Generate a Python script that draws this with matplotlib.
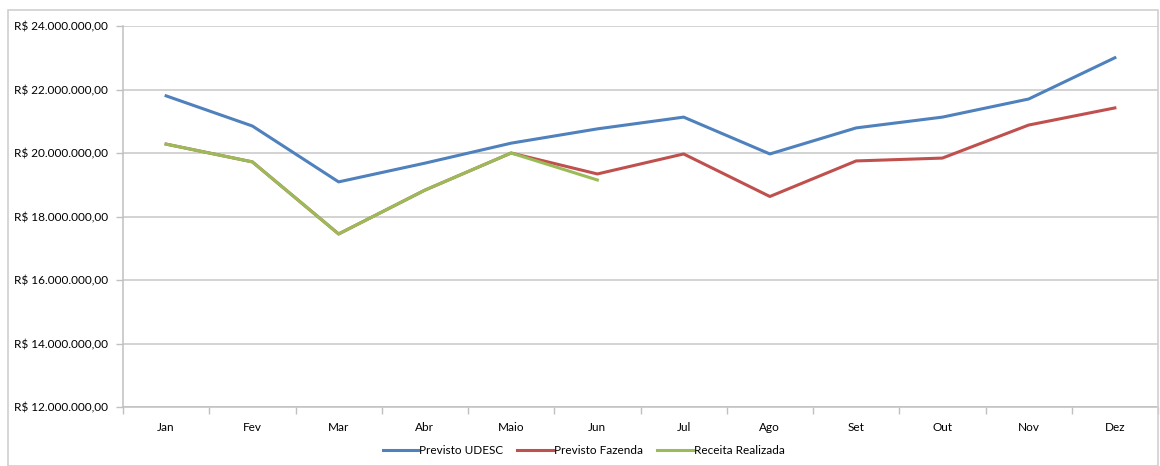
import matplotlib.pyplot as plt
import matplotlib.ticker as mticker
from matplotlib.patches import Rectangle

meses = ["Jan", "Fev", "Mar", "Abr", "Maio", "Jun", "Jul", "Ago", "Set", "Out", "Nov", "Dez"]
previsto_udesc = [21.80, 20.85, 19.09, 19.68, 20.31, 20.76, 21.13, 19.97, 20.79, 21.13, 21.70, 23.00]
previsto_fazenda = [20.28, 19.72, 17.45, 18.83, 20.00, 19.34, 19.97, 18.63, 19.75, 19.84, 20.88, 21.42]
receita_realizada = [20.28, 19.72, 17.45, 18.83, 20.00, 19.15]

plt.rcParams['font.family'] = ['Lato', 'DejaVu Sans']

def brl(v, pos):
    milhoes = int(round(v))
    return "R$ {}.000.000,00".format(milhoes)

fig = plt.figure(figsize=(11.6, 4.66), dpi=100)
fig.patches.append(Rectangle((8 / 1160, 0), 1150 / 1160, 1 - 10 / 466, transform=fig.transFigure,
                             fill=False, edgecolor="#d0d0d0", linewidth=1.2))
ax = fig.add_axes([123 / 1160, 1 - 407 / 466, (1158 - 123) / 1160, (407 - 26) / 466])

x = list(range(len(meses)))
ax.plot(x, previsto_udesc, color="#4F81BD", lw=2.2, label="Previsto UDESC")
ax.plot(x, previsto_fazenda, color="#C0504D", lw=2.2, label="Previsto Fazenda")
ax.plot(range(len(receita_realizada)), receita_realizada, color="#9BBB59", lw=2.2, label="Receita Realizada")

ax.set_xlim(-0.5, 11.5)
ax.set_ylim(12, 24)
ax.set_yticks(range(12, 25, 2))
ax.yaxis.set_major_formatter(mticker.FuncFormatter(brl))
ax.set_xticks(x)
ax.set_xticklabels(meses)
ax.set_xticks([i + 0.5 for i in range(-1, 12)], minor=True)
ax.tick_params(axis="x", which="major", length=0, pad=11, labelsize=8.5, colors="#000000")
ax.tick_params(axis="x", which="minor", length=5, color="#c0c0c0", width=1)
ax.tick_params(axis="y", length=5, color="#c0c0c0", width=1, pad=6, labelsize=8.5)
ax.grid(axis="y", color="#c8c8c8", lw=1.1)
ax.set_axisbelow(True)
for s in ["top", "right"]:
    ax.spines[s].set_visible(False)
for s in ["left", "bottom"]:
    ax.spines[s].set_color("#c0c0c0")
    ax.spines[s].set_linewidth(1.1)

ax.legend(loc="center", bbox_to_anchor=(0.445, -0.115), ncol=3, frameon=False, fontsize=8.5,
          handlelength=3.0, handletextpad=0.1, columnspacing=1.2)

fig.savefig("out.png", dpi=100)
